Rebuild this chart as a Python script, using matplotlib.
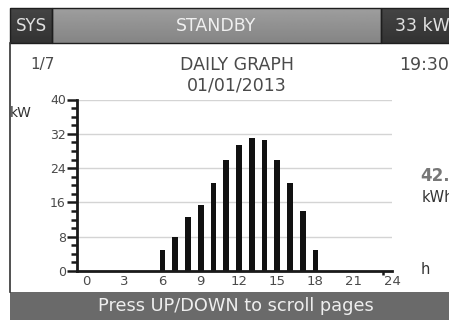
import matplotlib

matplotlib.use("Agg")
import matplotlib.pyplot as plt
import numpy as np
from matplotlib.patches import Rectangle

plt.rcParams["font.family"] = ["DejaVu Sans"]

# Hourly output for the day (kW), one bar per hour
hours = list(range(24))
power_kw = [0, 0, 0, 0, 0, 0, 5, 8, 12.5, 15.5, 20.5, 26, 29.5, 31, 30.5,
            26, 20.5, 14, 5, 0, 0, 0, 0, 0]
x_ticks = [0, 3, 6, 9, 12, 15, 18, 21, 24]
y_ticks = [0, 8, 16, 24, 32, 40]

status = "STANDBY"
system_power = "33 kW"
page = "1/7"
clock = "19:30"
day_energy = "42.5"
title = "DAILY GRAPH"
date = "01/01/2013"
footer = "Press UP/DOWN to scroll pages"

W, H = 449, 320
fig = plt.figure(figsize=(W / 100, H / 100), dpi=100, facecolor="white")

# screen frame drawn in pixel coordinates
scr = fig.add_axes([0, 0, 1, 1])
scr.set_xlim(0, W)
scr.set_ylim(H, 0)
scr.axis("off")

text_grey = "#4a4a4a"

# header bar: dark side boxes, shaded status box in the middle
shade = np.linspace(0.62, 0.52, 40).reshape(-1, 1)
scr.imshow(shade, cmap="gray", vmin=0, vmax=1, extent=(52, 381, 43, 8),
           aspect="auto", zorder=1)
dark = np.linspace(0.27, 0.2, 40).reshape(-1, 1)
scr.imshow(dark, cmap="gray", vmin=0, vmax=1, extent=(10, 52, 43, 8),
           aspect="auto", zorder=1)
scr.imshow(dark, cmap="gray", vmin=0, vmax=1, extent=(381, 451, 43, 8),
           aspect="auto", zorder=1)
for x0, w in ((10, 42), (52, 329), (381, 70)):
    scr.add_patch(Rectangle((x0, 8), w, 35, facecolor="none", edgecolor="#1e1e1e",
                            lw=1, zorder=2))
scr.set_xlim(0, W)
scr.set_ylim(H, 0)
scr.text(31, 26, "SYS", color="#e0e0e0", fontsize=12, ha="center", va="center", zorder=3)
scr.text(216, 26, status, color="#f0f0f0", fontsize=12.5, ha="center", va="center", zorder=3)
scr.text(395, 26, system_power, color="#e0e0e0", fontsize=12.5, ha="left", va="center",
         zorder=3)

# left edge and footer bar
scr.plot([10, 10], [43, 292], color="#333333", lw=1.2)
scr.add_patch(Rectangle((10, 292), 441, 30, facecolor="#6a6a6a", edgecolor="none"))
scr.text(236, 306, footer, color="#eeeeee", fontsize=12.8, ha="center", va="center")

scr.text(43, 65, page, color=text_grey, fontsize=11, ha="center", va="center")
scr.text(237, 65, title, color=text_grey, fontsize=12.5, ha="center", va="center")
scr.text(237, 86, date, color=text_grey, fontsize=12.5, ha="center", va="center")
scr.text(399, 65, clock, color=text_grey, fontsize=12.5, ha="left", va="center")
scr.text(10, 113, "kW", color="#333333", fontsize=10, ha="left", va="center")
scr.text(420, 176, day_energy, color="#777777", fontsize=12, fontweight="bold",
         ha="left", va="center")
scr.text(422, 197, "kWh", color="#333333", fontsize=10.5, ha="left", va="center")
scr.text(421, 270, "h", color="#333333", fontsize=10.5, ha="left", va="center")

# daily graph
ax = fig.add_axes([77 / W, (H - 271) / H, 315 / W, 171.5 / H])
ax.set_facecolor("none")
ax.bar(hours, power_kw, width=0.45, color="#111111", zorder=3)
ax.set_xlim(-0.7, 23.95)
ax.set_ylim(0, 40)
for s in ("top", "right"):
    ax.spines[s].set_visible(False)
for s in ("left", "bottom"):
    ax.spines[s].set_linewidth(2)
    ax.spines[s].set_color("#1a1a1a")
    ax.spines[s].set_zorder(4)
ax.set_yticks(y_ticks)
ax.set_yticks(range(0, 41, 2), minor=True)
ax.set_yticklabels([str(v) for v in y_ticks], color=text_grey, fontsize=9)
ax.tick_params(axis="y", which="major", length=7, width=1.8, color="#1a1a1a", pad=1)
ax.tick_params(axis="y", which="minor", length=4, width=1.8, color="#1a1a1a")
ax.set_xticks(x_ticks)
ax.set_xticklabels([str(v) for v in x_ticks], color=text_grey, fontsize=9.5)
ax.tick_params(axis="x", length=0, pad=3)
ax.set_xticks([23.3], minor=True)
ax.tick_params(axis="x", which="minor", length=3, width=1.8, color="#1a1a1a")
ax.grid(axis="y", color="#d4d4d4", lw=1, zorder=1)

fig.savefig("out.png", dpi=100)
